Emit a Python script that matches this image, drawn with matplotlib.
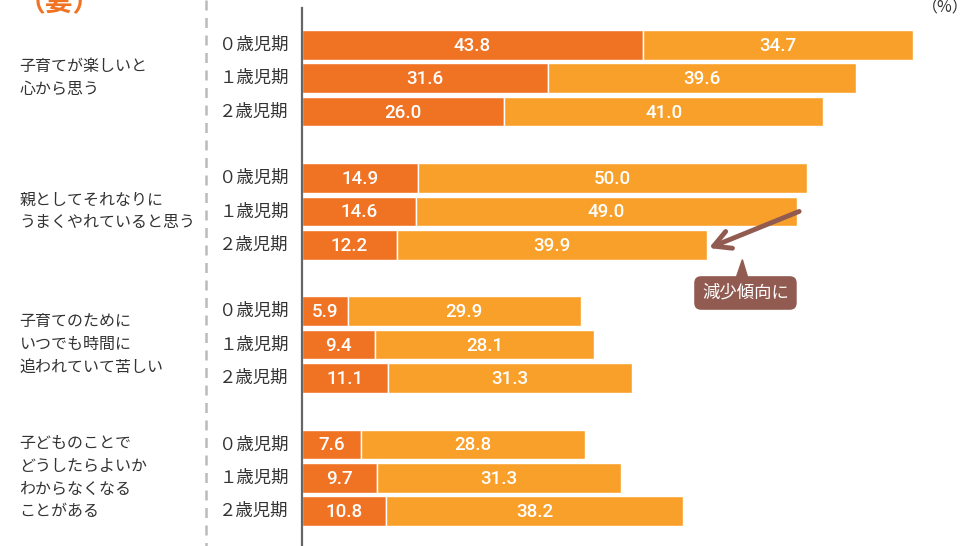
import numpy as np
import matplotlib.pyplot as plt

plt.rcParams['font.family'] = ['Noto Sans CJK JP', 'DejaVu Sans']

# survey items and periods
items = ["子育てが楽しいと\n心から思う",
         "親としてそれなりに\nうまくやれていると思う",
         "子育てのために\nいつでも時間に\n追われていて苦しい",
         "子どものことで\nどうしたらよいか\nわからなくなる\nことがある"]
periods = ["０歳児期", "１歳児期", "２歳児期"]

# (%) strong agreement / agreement
strong = [[43.8, 31.6, 26.0],
          [14.9, 14.6, 12.2],
          [5.9, 9.4, 11.1],
          [7.6, 9.7, 10.8]]
mild = [[34.7, 39.6, 41.0],
        [50.0, 49.0, 39.9],
        [29.9, 28.1, 31.3],
        [28.8, 31.3, 38.2]]

c_dark = '#F07324'
c_light = '#F9A02A'
c_note = '#915B51'

W, H = 969, 546
fig = plt.figure(figsize=(W / 100, H / 100), dpi=100)
ax = fig.add_axes([302 / W, 0, 667 / W, 1])

pitch = (511 - 45) / 14
y_top = -45 / pitch
y_bot = (H - 45) / pitch
ax.set_xlim(0, 667 / 7.78)
ax.set_ylim(y_bot, y_top)
ax.axis('off')

num_font = ['Roboto', 'DejaVu Sans']
for g in range(len(items)):
    pos = np.arange(3) + 4 * g
    s = np.array(strong[g])
    m = np.array(mild[g])
    ax.barh(pos, s, height=0.89, color=c_dark, edgecolor='white', linewidth=1.0)
    ax.barh(pos, m, left=s, height=0.89, color=c_light, edgecolor='white', linewidth=1.0)
    for p, a, b in zip(pos, s, m):
        ax.text(a / 2, p + 0.03, f"{a:.1f}", color='white', ha='center', va='center',
                fontsize=13.5, fontweight='medium', family=num_font)
        ax.text(a + b / 2, p + 0.03, f"{b:.1f}", color='white', ha='center', va='center',
                fontsize=13.5, fontweight='medium', family=num_font)
    for p, lab in zip(pos, periods):
        ax.text(-1.7, p, lab, ha='right', va='center', fontsize=12.5, color='#333333')
    ax.text(-36.3, pos[1], items[g], ha='left', va='center', fontsize=11.5,
            color='#333333', linespacing=1.45)

# vertical axis and dashed divider
ax.plot([0, 0], [(8 - 45) / pitch, y_bot], color='#666666', lw=1.6, clip_on=False)
ax.plot([-12.3, -12.3], [y_top, y_bot], color='#BBBBBB', lw=1.8,
        ls=(0, (4, 3)), clip_on=False)

# callout arrow and note
ax.annotate('', xy=(52.3, 6.1), xytext=(63.9, 5.0),
            arrowprops=dict(arrowstyle='->,head_length=1.2,head_width=0.65',
                            color=c_note, lw=3.5, capstyle='round',
                            shrinkA=0, shrinkB=0))
ax.text(57.0, 7.45, "減少傾向に", ha='center', va='center', fontsize=12.5,
        color='white',
        bbox=dict(boxstyle='round,pad=0.45,rounding_size=0.4', fc=c_note, ec='none'))
ax.fill([55.8, 57.3, 56.6], [7.0, 7.0, 6.45], color=c_note, clip_on=False)

fig.text(18 / W, 1 - 3 / H, "（妻）", color=c_dark, fontsize=20, fontweight='bold',
         ha='left', va='center')
fig.text(945 / W, 1 - 8 / H, "（%）", color='#333333', fontsize=11.5,
         ha='center', va='center')

fig.savefig('out.png', dpi=100)
